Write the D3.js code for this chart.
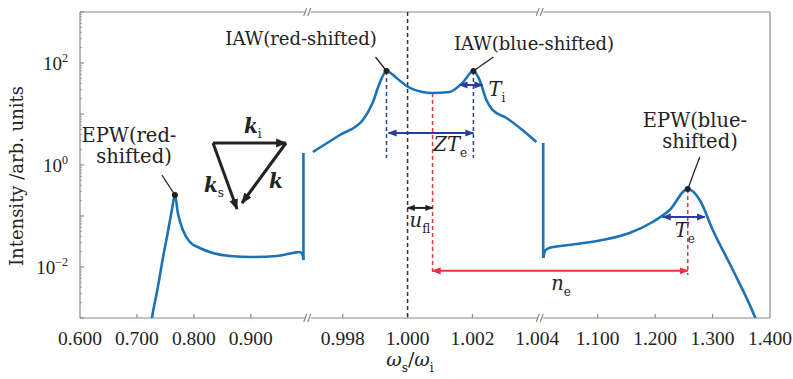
<!DOCTYPE html>
<html>
<head>
<meta charset="utf-8">
<script src="https://cdn.jsdelivr.net/npm/d3@7"></script>
<style>
  body { margin: 0; background: #fff; }
  text { fill: #222; }
  .serif { font-family: "DejaVu Serif", serif; }
  .tick { font-family: "Liberation Serif", serif; }
</style>
</head>
<body>
<div id="chart"></div>
<script>
// ---- axis ticks ----
var xTickValues = [0.6, 0.7, 0.8, 0.9, 0.998, 1.000, 1.002, 1.004, 1.1, 1.2, 1.3, 1.4];
var xTickSegment = [0, 0, 0, 0, 1, 1, 1, 1, 2, 2, 2, 2];
var xTickLabels = ["0.600", "0.700", "0.800", "0.900", "0.998", "1.000", "1.002", "1.004", "1.100", "1.200", "1.300", "1.400"];
var yTickExponents = [-2, 0, 2];

// broken x axis: three pieces
var segmentDomains = [[0.6, 1.0], [0.99692, 1.00409], [1.0, 1.4]];

// ---- spectrum, one array pair per piece ----
var epwRedX = [0.7228, 0.7263, 0.7368, 0.7456, 0.7544, 0.7614, 0.7667, 0.7719, 0.7807, 0.7930, 0.8105, 0.8333, 0.8632, 0.9035, 0.9456, 0.9737, 0.9860, 0.9912, 0.9925];
var epwRedY = [0.00058, 0.0010, 0.00406, 0.0150, 0.0486, 0.131, 0.258, 0.1146, 0.0531, 0.0309, 0.0236, 0.0188, 0.0164, 0.0157, 0.0164, 0.0188, 0.0197, 0.0172, 0.0137];
var epwRedJumpTo = 1.72;

var iawX = [0.99708, 0.99791, 0.99862, 0.99892, 0.99914, 0.99935, 0.99966, 0.99997, 1.00046, 1.00077, 1.00129, 1.00169, 1.00203, 1.00222, 1.00243, 1.00262, 1.00305, 1.00354, 1.00397];
var iawY = [1.80, 3.87, 7.63, 16.4, 40.6, 69.7, 50.8, 35.4, 27.0, 25.8, 27.0, 40.6, 69.7, 46.4, 18.8, 12.0, 8.36, 4.85, 2.83];

var epwBlueX = [1.0052, 1.0087, 1.0157, 1.0507, 1.1083, 1.1555, 1.1956, 1.2253, 1.2568, 1.2777, 1.3004, 1.3354, 1.3738, 1.3800];
var epwBlueY = [0.0150, 0.0210, 0.0236, 0.0270, 0.0338, 0.0465, 0.0763, 0.131, 0.338, 0.206, 0.0531, 0.00873, 0.00105, 0.0007];
var epwBlueJumpFrom = 2.70;

// ---- annotation levels (data units) ----
var tiRange = [1.0016, 1.00231], tiLevel = 37;
var teRange = [1.2131, 1.2865], teLevel = 0.0955;
var zteLevel = 4.24, uflLevel = 0.144, neLevel = 0.0084;
var iawGuideBottom = 1.37, redGuideBottom = 0.0070;

function main() {
    var width = 793, height = 379;
    var left = 80, right = 770, top = 12, bottom = 318;
    var b1 = left + 0.33 * (right - left),
        b2 = left + 0.667 * (right - left);
    var ranges = [[left, b1], [b1, b2], [b2, right]];

    var xs = segmentDomains.map(function(d, i) { return d3.scaleLinear().domain(d).range(ranges[i]); });
    var y = d3.scaleLog().domain([1e-3, 1e3]).range([bottom, top]);

    var svg = d3.select("#chart").append("svg").attr("width", width).attr("height", height);
    var defs = svg.append("defs");
    defs.append("clipPath").attr("id", "plotclip").append("rect")
        .attr("x", left).attr("y", top).attr("width", right - left).attr("height", bottom - top);

    function marker(id, color, size) {
        defs.append("marker").attr("id", id)
            .attr("viewBox", "0 0 10 10").attr("refX", 9).attr("refY", 5)
            .attr("markerWidth", size).attr("markerHeight", size)
            .attr("markerUnits", "userSpaceOnUse")
            .attr("orient", "auto-start-reverse")
          .append("path").attr("d", "M0,1 L10,5 L0,9 z").attr("fill", color);
    }
    var navy = "#2a3f9d", red = "#e8333c", ink = "#222", blue = "#1b72b6", frame = "#8a8a8a";
    marker("ah-navy", navy, 9);
    marker("ah-red", red, 9);
    marker("ah-ink", ink, 8);
    marker("ah-tri", ink, 11);

    // ---- frame with axis breaks ----
    var ax = svg.append("g").attr("stroke", frame).attr("stroke-width", 1.2).attr("fill", "none");
    ax.append("line").attr("x1", left).attr("x2", left).attr("y1", top).attr("y2", bottom);
    ax.append("line").attr("x1", right).attr("x2", right).attr("y1", top).attr("y2", bottom);
    [top, bottom].forEach(function(yy) {
        var pieces = [[left, b1 - 3], [b1 + 3, b2 - 3], [b2 + 3, right]];
        pieces.forEach(function(p) {
            ax.append("line").attr("x1", p[0]).attr("x2", p[1]).attr("y1", yy).attr("y2", yy);
        });
        [b1, b2].forEach(function(b) {
            ax.append("line").attr("x1", b - 4).attr("y1", yy + 4).attr("x2", b - 1).attr("y2", yy - 4);
            ax.append("line").attr("x1", b).attr("y1", yy + 4).attr("x2", b + 3).attr("y2", yy - 4);
        });
    });

    // x ticks (inward)
    xTickValues.forEach(function(v, i) {
        var px = xs[xTickSegment[i]](v);
        if (px > left + 1 && px < right - 1 && Math.abs(px - b2) > 4)
            ax.append("line").attr("x1", px).attr("x2", px).attr("y1", bottom).attr("y2", bottom - 4);
        svg.append("text").attr("class", "tick").attr("x", px).attr("y", bottom + 27)
            .attr("text-anchor", "middle").attr("font-size", 19.5).text(xTickLabels[i]);
    });

    // y ticks: majors and log minors
    for (var e = -3; e <= 3; e++) {
        var yy = y(Math.pow(10, e));
        ax.append("line").attr("x1", left).attr("x2", left + 4).attr("y1", yy).attr("y2", yy);
        if (e < 3) for (var m = 2; m <= 9; m++) {
            var ym = y(m * Math.pow(10, e));
            ax.append("line").attr("x1", left).attr("x2", left + 2).attr("y1", ym).attr("y2", ym).attr("stroke-width", 0.8);
        }
    }
    yTickExponents.forEach(function(e) {
        var t = svg.append("text").attr("class", "tick").attr("x", 68).attr("y", y(Math.pow(10, e)) + 7)
            .attr("text-anchor", "end").attr("font-size", 19);
        t.append("tspan").text("10");
        t.append("tspan").attr("font-size", 12).attr("dy", -8).text(e < 0 ? "\u2212" + (-e) : e);
    });

    // axis titles
    svg.append("text").attr("class", "serif").attr("font-size", 18)
        .attr("transform", "translate(23," + 176 + ") rotate(-90)")
        .attr("text-anchor", "middle").text("Intensity /arb. units");
    var xt = svg.append("text").attr("class", "serif").attr("x", 410).attr("y", 366)
        .attr("text-anchor", "middle").attr("font-size", 19);
    xt.append("tspan").attr("font-style", "italic").text("\u03c9");
    xt.append("tspan").attr("font-size", 12).attr("dy", 6).text("s");
    xt.append("tspan").attr("dy", -6).text("/");
    xt.append("tspan").attr("font-style", "italic").text("\u03c9");
    xt.append("tspan").attr("font-size", 12).attr("dy", 6).text("i");

    // ---- guide lines ----
    var guides = svg.append("g").attr("stroke-width", 1.5).attr("stroke-dasharray", "4,3").attr("fill", "none");
    var x0 = xs[1](1.0);
    guides.append("line").attr("x1", x0).attr("x2", x0).attr("y1", top).attr("y2", bottom).attr("stroke", "#333");

    var iawPeaks = [];
    for (var i = 1; i < iawY.length - 1; i++)
        if (iawY[i] > iawY[i - 1] && iawY[i] > iawY[i + 1]) iawPeaks.push(i);
    var iawMin = iawPeaks[0] + d3.minIndex(iawY.slice(iawPeaks[0], iawPeaks[1] + 1));
    var redPeak = d3.maxIndex(epwRedY), bluePeak = d3.maxIndex(epwBlueY);

    iawPeaks.forEach(function(k) {
        var px = xs[1](iawX[k]);
        guides.append("line").attr("x1", px).attr("x2", px)
            .attr("y1", y(iawY[k])).attr("y2", y(iawGuideBottom)).attr("stroke", navy);
    });
    var xMin = xs[1](iawX[iawMin]), xBlue = xs[2](epwBlueX[bluePeak]);
    guides.append("line").attr("x1", xMin).attr("x2", xMin)
        .attr("y1", y(iawY[iawMin])).attr("y2", y(redGuideBottom)).attr("stroke", red);
    guides.append("line").attr("x1", xBlue).attr("x2", xBlue)
        .attr("y1", y(epwBlueY[bluePeak])).attr("y2", y(redGuideBottom)).attr("stroke", red);

    // ---- spectrum ----
    var plot = svg.append("g").attr("clip-path", "url(#plotclip)")
        .attr("fill", "none").attr("stroke", blue).attr("stroke-width", 2.6);
    [[epwRedX, epwRedY], [iawX, iawY], [epwBlueX, epwBlueY]].forEach(function(s, si) {
        var pts = s[0].map(function(v, j) { return [v, s[1][j]]; });
        plot.append("path").datum(pts)
            .attr("d", d3.line().x(function(d) { return xs[si](d[0]); })
                                .y(function(d) { return y(d[1]); })
                                .curve(d3.curveMonotoneX));
    });
    var n1 = epwRedX.length - 1;
    plot.append("line").attr("x1", xs[0](epwRedX[n1])).attr("x2", xs[0](epwRedX[n1]))
        .attr("y1", y(epwRedY[n1])).attr("y2", y(epwRedJumpTo));
    plot.append("line").attr("x1", xs[2](epwBlueX[0])).attr("x2", xs[2](epwBlueX[0]))
        .attr("y1", y(epwBlueJumpFrom)).attr("y2", y(epwBlueY[0]));

    // ---- arrows ----
    function arrow(xa, xb, yy, color, mk) {
        svg.append("line").attr("x1", xa).attr("x2", xb).attr("y1", yy).attr("y2", yy)
            .attr("stroke", color).attr("stroke-width", 2)
            .attr("marker-start", "url(#" + mk + ")").attr("marker-end", "url(#" + mk + ")");
    }
    arrow(xs[1](tiRange[0]), xs[1](tiRange[1]), y(tiLevel), navy, "ah-navy");
    arrow(xs[1](iawX[iawPeaks[0]]) + 2, xs[1](iawX[iawPeaks[1]]), y(zteLevel), navy, "ah-navy");
    arrow(x0, xMin, y(uflLevel), ink, "ah-ink");
    arrow(xMin, xBlue, y(neLevel), red, "ah-red");
    arrow(xs[2](teRange[0]), xs[2](teRange[1]), y(teLevel), navy, "ah-navy");

    // math labels
    function mathLabel(px, py, main, sub) {
        var t = svg.append("text").attr("class", "serif").attr("x", px).attr("y", py).attr("font-size", 19.5);
        t.append("tspan").attr("font-style", "italic").text(main);
        t.append("tspan").attr("font-size", 12).attr("dy", 6).text(sub);
    }
    mathLabel(xs[1](tiRange[1]) + 6, y(tiLevel) + 11, "T", "i");
    mathLabel(xMin + 1, y(zteLevel) + 18, "ZT", "e");
    mathLabel(x0 + 2, y(uflLevel) + 19, "u", "fl");
    mathLabel((xMin + xBlue) / 2 - 9, y(neLevel) + 19, "n", "e");
    mathLabel(xBlue - 13, y(teLevel) + 20, "T", "e");

    // ---- peak markers and names ----
    var peaks = [
        { px: xs[0](epwRedX[redPeak]), py: y(epwRedY[redPeak]), dx: -13, dy: -20, lines: ["EPW(red-", "shifted)"], tx: 129, ty: 142, fs: 19.5 },
        { px: xs[1](iawX[iawPeaks[0]]), py: y(iawY[iawPeaks[0]]), dx: -11, dy: -14, lines: ["IAW(red-shifted)"], tx: 301, ty: 45, fs: 18 },
        { px: xs[1](iawX[iawPeaks[1]]), py: y(iawY[iawPeaks[1]]), dx: 20, dy: -14, lines: ["IAW(blue-shifted)"], tx: 534, ty: 50, fs: 18 },
        { px: xs[2](epwBlueX[bluePeak]), py: y(epwBlueY[bluePeak]), dx: 12, dy: -32, lines: ["EPW(blue-", "shifted)"], tx: 695, ty: 127, fs: 19.5 }
    ];
    peaks.forEach(function(p) {
        svg.append("line").attr("x1", p.px).attr("y1", p.py).attr("x2", p.px + p.dx).attr("y2", p.py + p.dy)
            .attr("stroke", ink).attr("stroke-width", 1.3);
        svg.append("circle").attr("cx", p.px).attr("cy", p.py).attr("r", 3).attr("fill", ink);
        p.lines.forEach(function(s, j) {
            svg.append("text").attr("class", "serif").attr("x", p.tx + (j ? 5 : 0)).attr("y", p.ty + j * 21)
                .attr("text-anchor", "middle").attr("font-size", p.fs).text(s);
        });
    });

    // ---- wave-vector triangle inset ----
    var tri = svg.append("g").attr("transform", "translate(213,143)")
        .attr("stroke", ink).attr("stroke-width", 3).attr("fill", "none");
    tri.append("line").attr("x1", 0).attr("y1", 0).attr("x2", 73).attr("y2", 0).attr("marker-end", "url(#ah-tri)");
    tri.append("line").attr("x1", 0).attr("y1", 0).attr("x2", 24).attr("y2", 66).attr("marker-end", "url(#ah-tri)");
    tri.append("line").attr("x1", 73).attr("y1", 0).attr("x2", 29).attr("y2", 60).attr("marker-end", "url(#ah-tri)");
    function kLabel(px, py, sub) {
        var t = svg.append("text").attr("class", "serif").attr("x", px).attr("y", py)
            .attr("font-size", 20).attr("font-weight", "bold");
        t.append("tspan").attr("font-style", "italic").text("k");
        if (sub) t.append("tspan").attr("font-size", 12).attr("font-weight", "normal").attr("dy", 5).text(sub);
    }
    kLabel(244, 133, "i");
    kLabel(204, 192, "s");
    kLabel(269, 188, "");
}

main();
</script>
</body>
</html>
